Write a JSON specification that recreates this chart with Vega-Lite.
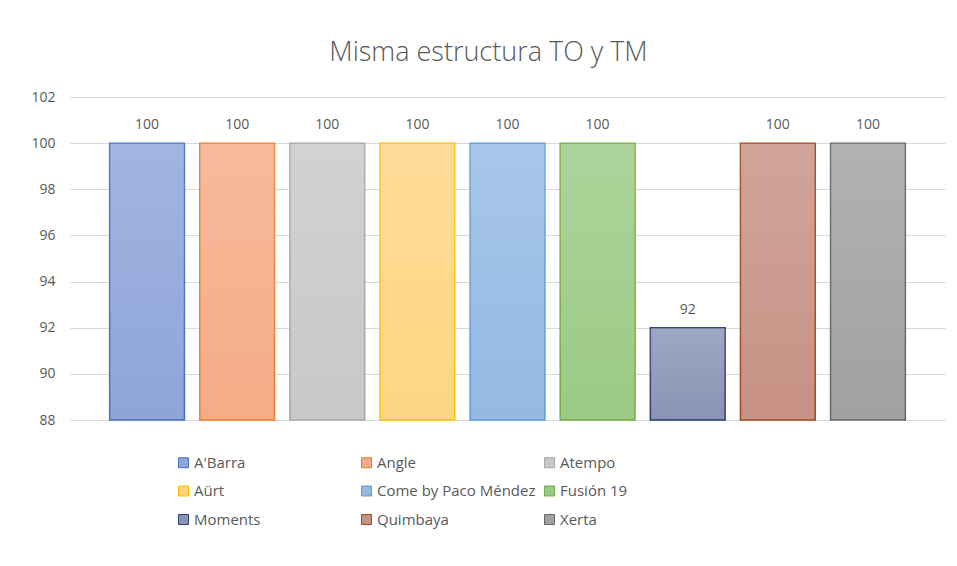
{
  "$schema": "https://vega.github.io/schema/vega-lite/v6.json",
  "width": 875,
  "height": 323,
  "autosize": {"type": "none"},
  "padding": {"left": 70, "top": 97, "right": 12, "bottom": 146},
  "background": "white",
  "title": {"text": "Misma estructura TO y TM", "font": "Open Sans", "fontSize": 27, "fontWeight": 300, "color": "#595959", "anchor": "middle", "dx": -19, "offset": 23},
  "data": {"values": [
    {"restaurante": "A'Barra", "valor": 100},
    {"restaurante": "Angle", "valor": 100},
    {"restaurante": "Atempo", "valor": 100},
    {"restaurante": "Aürt", "valor": 100},
    {"restaurante": "Come by Paco Méndez", "valor": 100},
    {"restaurante": "Fusión 19", "valor": 100},
    {"restaurante": "Moments", "valor": 92},
    {"restaurante": "Quimbaya", "valor": 100},
    {"restaurante": "Xerta", "valor": 100}
  ]},
  "config": {"view": {"stroke": null}, "font": "Open Sans"},
  "encoding": {
    "x": {"field": "restaurante", "type": "nominal", "sort": null, "axis": null,
          "scale": {"paddingInner": 0.17, "paddingOuter": 0.44}},
    "y": {"field": "valor", "type": "quantitative",
          "scale": {"domain": [88, 102], "zero": false, "nice": false},
          "axis": {"title": null, "values": [88, 90, 92, 94, 96, 98, 100, 102], "domain": false, "ticks": false,
                   "labelColor": "#595959", "labelFontSize": 14, "labelPadding": 15, "gridColor": "#d9d9d9", "gridWidth": 1}}
  },
  "layer": [
    {
      "mark": {"type": "bar", "strokeWidth": 1.5},
      "encoding": {
        "y2": {"datum": 88},
        "fill": {"field": "restaurante", "type": "nominal", "sort": null,
          "scale": {"range": ["#8ea5da", "#f5ab86", "#c8c8c8", "#fed582", "#94b9e3", "#9bca85", "#8994b5", "#c79184", "#a1a1a1"]},
          "legend": {"title": null, "orient": "none", "legendX": 106, "legendY": 358, "direction": "horizontal", "columns": 3,
                     "gridAlign": "all", "columnPadding": 6, "rowPadding": 12.5, "symbolType": "square", "symbolSize": 100,
                     "symbolStrokeWidth": 1, "labelFontSize": 15, "labelColor": "#595959", "labelOffset": 3, "labelLimit": 220}
        },
        "stroke": {"field": "restaurante", "type": "nominal", "sort": null, "legend": null,
          "scale": {"range": ["#4a70c2", "#ed7d31", "#a5a5a5", "#ffc000", "#5b9bd5", "#70ad47", "#2a3f6e", "#a04a1c", "#666666"]}}
      }
    },
    {
      "mark": {"type": "bar", "strokeWidth": 0,
               "fill": {"gradient": "linear", "x1": 0, "y1": 0, "x2": 0, "y2": 1,
                        "stops": [{"offset": 0, "color": "rgba(255,255,255,0.18)"}, {"offset": 1, "color": "rgba(255,255,255,0)"}]}},
      "encoding": {"y2": {"datum": 88}}
    },
    {
      "mark": {"type": "text", "baseline": "bottom", "dy": -11, "fontSize": 14, "color": "#595959"},
      "encoding": {"text": {"field": "valor", "type": "quantitative"}}
    }
  ]
}
